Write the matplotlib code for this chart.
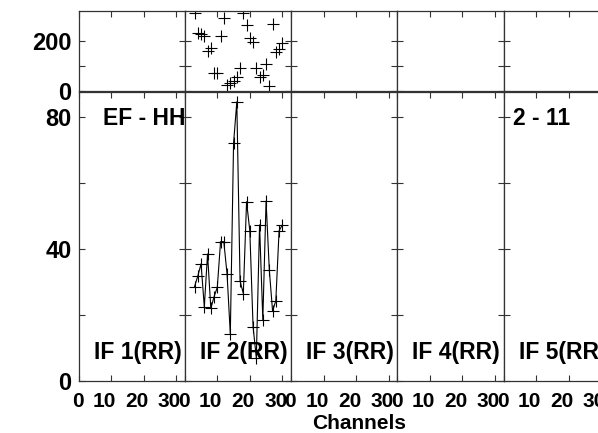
import matplotlib
matplotlib.use("Agg")
import matplotlib.pyplot as plt
from matplotlib.transforms import ScaledTranslation

plt.rcParams['font.family'] = ['Liberation Sans', 'DejaVu Sans']
plt.rcParams['font.weight'] = 'bold'

# data: only IF 2 has unflagged channels
channels = list(range(3, 31))
amplitude = [28.6, 31.8, 35.5, 22.5, 38.5, 22.0, 25.5, 28.4, 42.2, 42.2,
             32.4, 14.2, 72.0, 84.6, 30.3, 26.5, 54.3, 45.5, 16.5, 7.0,
             47.3, 18.6, 54.5, 33.6, 21.2, 24.3, 45.5, 47.3]
phase = [315, 235, 229, 222, 160, 172, 72, 70, 221, 295,
         21, 31, 40, 54, 90, 315, 267, 214, 197, 90,
         54, 65, 110, 17, 271, 156, 170, 193]

if_labels = ["IF 1(RR)", "IF 2(RR)", "IF 3(RR)", "IF 4(RR)", "IF 5(RR)"]
data_if = 1
x_ticks = [0, 10, 20, 30]
phase_ticks = [0, 100, 200]
phase_labels = ["0", "", "200"]
amp_ticks = [0, 20, 40, 60, 80]
amp_labels = ["0", "", "40", "", "80"]

W, H = 598, 433
fig = plt.figure(figsize=(W / 100, H / 100), dpi=100)

def fx(px):
    return px / W

def fy(py):
    return 1 - py / H

col_left = 78.5
col_w = 106.3
edge = '#333333'
fs_x = 15     # channel tick labels / axis title
fs_y = 17     # value tick labels
fs_txt = 16.5 # panel annotations

for i in range(5):
    x0 = col_left + i * col_w
    ax_p = fig.add_axes([fx(x0), fy(90.5), col_w / W, 80 / H])
    ax_a = fig.add_axes([fx(x0), fy(381), col_w / W, (381 - 91.5) / H])

    for ax in (ax_p, ax_a):
        ax.set_xlim(0, 32.7)
        ax.set_xticks(x_ticks)
        for sp in ax.spines.values():
            sp.set_color(edge)
            sp.set_linewidth(0.9)
        ax.tick_params(direction='in', length=4.5, width=0.8, color=edge,
                       left=True, right=True)
        ax.tick_params(axis='x', labelsize=fs_x)
        ax.tick_params(axis='y', labelsize=fs_y)

    ax_p.set_ylim(0, 326)
    ax_p.set_yticks(phase_ticks, phase_labels)
    ax_p.tick_params(axis='x', top=True, bottom=False, labelbottom=False)

    ax_a.set_ylim(0, 87.7)
    ax_a.set_yticks(amp_ticks, amp_labels)
    ax_a.tick_params(axis='x', top=True, bottom=True, pad=8)
    shift = ScaledTranslation(5 / 100, 0, fig.dpi_scale_trans)
    for lab in ax_a.get_xticklabels():
        lab.set_ha('right')
        lab.set_transform(lab.get_transform() + shift)

    if i == 0:
        ax_p.tick_params(axis='y', pad=5)
        ax_a.tick_params(axis='y', pad=5)
    else:
        ax_p.tick_params(axis='y', labelleft=False)
        ax_a.tick_params(axis='y', labelleft=False)

    if i == data_if:
        ax_p.plot(channels, phase, linestyle='none', marker='+',
                  markersize=9, markeredgewidth=0.8, color='black')
        ax_a.plot(channels, amplitude, marker='+', markersize=9,
                  markeredgewidth=0.8, linewidth=0.8, color='black')

    fig.text(fx(x0 + 15), fy(359), if_labels[i], fontsize=fs_txt,
             va='baseline', ha='left')

fig.text(fx(102.7), fy(125), "EF - HH", fontsize=fs_txt, va='baseline', ha='left')
fig.text(fx(512.7), fy(125), "2 - 11", fontsize=fs_txt, va='baseline', ha='left')
fig.text(fx(359), fy(414), "Channels", fontsize=fs_x, va='top', ha='center')

fig.savefig("out.png", dpi=100)
